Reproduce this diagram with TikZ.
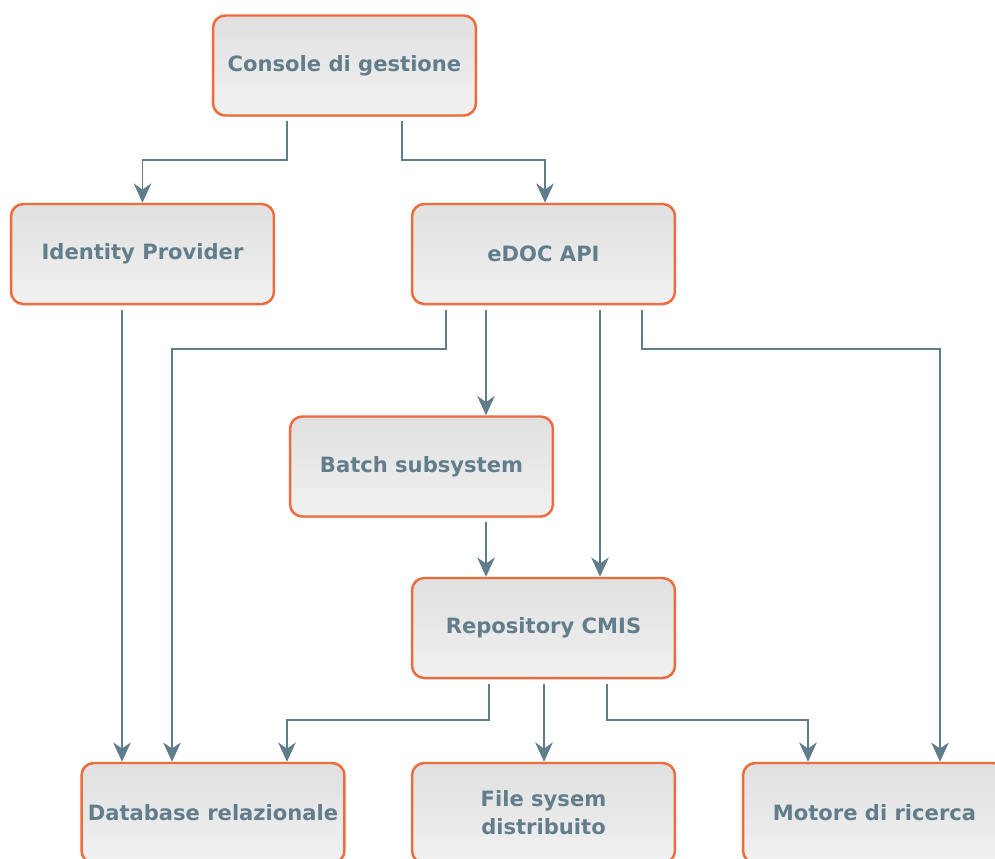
\documentclass[tikz,border=0pt]{standalone}
\usepackage{fontspec}
\setsansfont{DejaVu Sans}
\usepackage{tikz}
\usetikzlibrary{arrows.meta,shadows}
\definecolor{edocOrange}{HTML}{EE6B3B}
\definecolor{edocSlate}{HTML}{5F7D8B}
\definecolor{edocText}{HTML}{627D8B}
\definecolor{edocTop}{HTML}{E0E0E0}
\definecolor{edocMid}{HTML}{EAEAEA}
\definecolor{edocBottom}{HTML}{F1F1F1}

\begin{document}
\begin{tikzpicture}[
  x=0.02cm, y=-0.02cm,
  font=\sffamily\bfseries\fontsize{12}{16}\selectfont,
  box/.style={draw=edocOrange, line width=1.4pt, rounded corners=7pt,
    minimum width=5.26cm, minimum height=2cm, inner xsep=2pt, align=center, text=edocText,
    top color=edocTop, middle color=edocMid, bottom color=edocBottom,
    drop shadow={shadow xshift=0pt, shadow yshift=-1pt, opacity=0.12, fill=black}},
  conn/.style={draw=edocSlate, line width=1.1pt, shorten <=2.5pt,
    -{Stealth[length=11pt, width=10pt, inset=3.5pt]}}
]
  \useasboundingbox (0,0) rectangle (995,859);

  \node[box] (console) at (344.5,65.5) {Console di gestione};
  \node[box] (idp) at (142.5,254) {Identity Provider};
  \node[box] (edoc) at (543.5,254) {eDOC API};
  \node[box] (batch) at (421.5,466.5) {Batch subsystem};
  \node[box] (repo) at (543.5,628) {Repository CMIS};
  \node[box] (db) at (213,813) {Database relazionale};
  \node[box] (fs) at (543.5,813) {File sysem\\distribuito};
  \node[box] (search) at (874.5,813) {Motore di ricerca};

  % console
  \draw[conn] (console.south -| 287,0) -- (287,160) -| (idp.north);
  \draw[conn] (console.south -| 402,0) -- (402,160) -| (edoc.north -| 545,0);

  % identity provider
  \draw[conn] (idp.south -| 122,0) -- (db.north -| 122,0);

  % eDOC API
  \draw[conn] (edoc.south -| 446,0) -- (446,349) -| (db.north -| 172,0);
  \draw[conn] (edoc.south -| 486,0) -- (batch.north -| 486,0);
  \draw[conn] (edoc.south -| 600,0) -- (repo.north -| 600,0);
  \draw[conn] (edoc.south -| 642,0) -- (642,349) -| (search.north -| 940,0);

  % batch + repository
  \draw[conn] (batch.south -| 486,0) -- (repo.north -| 486,0);
  \draw[conn] (repo.south -| 489,0) -- (489,720) -| (db.north -| 287,0);
  \draw[conn] (repo.south -| 544,0) -- (fs.north -| 544,0);
  \draw[conn] (repo.south -| 607,0) -- (607,720) -| (search.north -| 808,0);
\end{tikzpicture}
\end{document}
